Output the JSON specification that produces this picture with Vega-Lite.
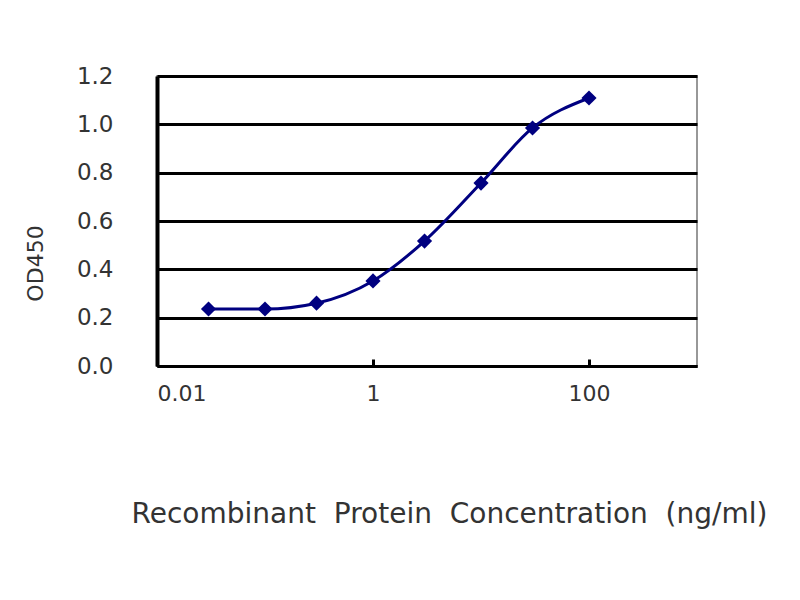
{
  "$schema": "https://vega.github.io/schema/vega-lite/v6.json",
  "autosize": {"type": "none"},
  "width": 540,
  "height": 290,
  "padding": {"left": 157, "top": 76, "right": 103, "bottom": 234},
  "background": "white",
  "config": {
    "view": {"stroke": "#777777", "strokeWidth": 1.5},
    "font": "DejaVu Sans"
  },
  "data": {
    "values": [
      {"conc": 0.03, "od": 0.236},
      {"conc": 0.1, "od": 0.236},
      {"conc": 0.3, "od": 0.26},
      {"conc": 1, "od": 0.352},
      {"conc": 3, "od": 0.517},
      {"conc": 10, "od": 0.757},
      {"conc": 30, "od": 0.985},
      {"conc": 100, "od": 1.109}
    ]
  },
  "layer": [
    {
      "mark": {"type": "line", "interpolate": "monotone", "color": "#000080", "strokeWidth": 3},
      "encoding": {
        "x": {
          "field": "conc", "type": "quantitative",
          "scale": {"type": "log", "domain": [0.01, 1000], "nice": false},
          "axis": {
            "values": [0.01, 1, 100], "format": "~g",
            "grid": false, "domainColor": "black", "domainWidth": 3,
            "tickColor": "black", "tickWidth": 3, "tickSize": -7,
            "labelFontSize": 22, "labelColor": "#333333", "labelPadding": 24,
            "title": "Recombinant\u00a0\u00a0Protein\u00a0\u00a0Concentration\u00a0\u00a0(ng/ml)",
            "titleFontSize": 28, "titleFontWeight": "normal", "titleColor": "#333333",
            "titleX": 292, "titleY": 148, "titleAnchor": "middle", "titleBaseline": "middle"
          }
        },
        "y": {
          "field": "od", "type": "quantitative",
          "scale": {"domain": [0, 1.2], "nice": false},
          "axis": {
            "values": [0, 0.2, 0.4, 0.6, 0.8, 1.0, 1.2], "format": ".1f",
            "grid": true, "gridColor": "black", "gridWidth": 3, "gridOpacity": 1,
            "domainColor": "black", "domainWidth": 4,
            "ticks": false, "labelFontSize": 23, "labelColor": "#333333", "labelPadding": 44,
            "title": "OD450", "titleFontSize": 22, "titleFontWeight": "normal", "titleColor": "#333333",
            "titleX": -122, "titleY": 187, "titleAnchor": "middle", "titleBaseline": "middle"
          }
        }
      }
    },
    {
      "mark": {"type": "point", "shape": "diamond", "filled": true, "color": "#000080", "size": 230, "opacity": 1},
      "encoding": {
        "x": {"field": "conc", "type": "quantitative", "scale": {"type": "log", "domain": [0.01, 1000], "nice": false}},
        "y": {"field": "od", "type": "quantitative", "scale": {"domain": [0, 1.2], "nice": false}}
      }
    }
  ]
}
